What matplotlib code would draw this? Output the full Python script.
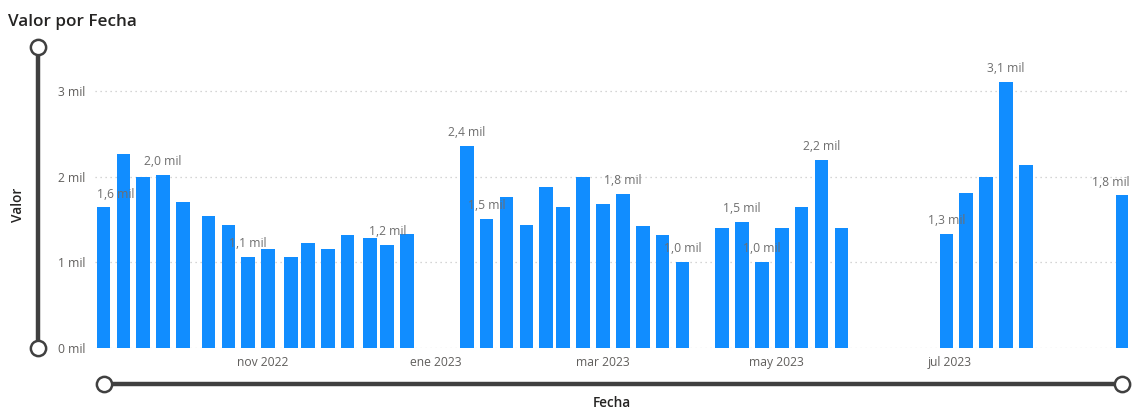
import matplotlib
matplotlib.use("Agg")
import matplotlib.pyplot as plt
import matplotlib.dates as mdates
from matplotlib.lines import Line2D
import numpy as np
import datetime as dt

# ---- data ----
fechas = [
    "2022-09-06", "2022-09-13", "2022-09-20", "2022-09-27", "2022-10-04",
    "2022-10-13", "2022-10-20", "2022-10-27", "2022-11-03", "2022-11-11",
    "2022-11-17", "2022-11-24", "2022-12-01", "2022-12-09", "2022-12-15",
    "2022-12-22",
    "2023-01-12", "2023-01-19", "2023-01-26", "2023-02-02", "2023-02-09",
    "2023-02-15", "2023-02-22", "2023-03-01", "2023-03-08", "2023-03-15",
    "2023-03-22", "2023-03-29",
    "2023-04-12", "2023-04-19", "2023-04-26", "2023-05-03", "2023-05-10",
    "2023-05-17", "2023-05-24",
    "2023-06-30", "2023-07-07", "2023-07-14", "2023-07-21", "2023-07-28",
    "2023-08-31",
]
valores = [
    1640, 2260, 1990, 2020, 1700, 1540, 1440, 1060, 1160, 1060, 1220, 1160,
    1320, 1280, 1200, 1330,
    2360, 1510, 1760, 1440, 1880, 1640, 2000, 1680, 1800, 1420, 1320, 1000,
    1400, 1470, 1000, 1400, 1640, 2200, 1400,
    1330, 1810, 2000, 3100, 2140, 1780,
]
etiquetas_idx = [0, 3, 7, 14, 16, 17, 24, 27, 29, 30, 33, 35, 38, 40]
y_ticks = [0, 1000, 2000, 3000]
x_ticks = ["2022-11-01", "2023-01-01", "2023-03-01", "2023-05-01", "2023-07-01"]
x_tick_labels = ["nov 2022", "ene 2023", "mar 2023", "may 2023", "jul 2023"]

# ---- figure ----
W, H = 1138, 412
plt.rcParams['font.family'] = ['Open Sans', 'DejaVu Sans']
fig = plt.figure(figsize=(W / 100, H / 100), dpi=100)

def fx(px):
    return px / W

def fy(py):
    return 1 - py / H

ax_l, ax_r, ax_t, ax_b = 95, 1128, 52.4, 348
ax = fig.add_axes([fx(ax_l), fy(ax_b), fx(ax_r - ax_l), (ax_b - ax_t) / H])

d = [dt.datetime.strptime(s, "%Y-%m-%d") for s in fechas]
dn = mdates.date2num(d)
bar_w = 4.8
blue = "#118DFF"
ax.bar(dn, valores, width=bar_w, color=blue, zorder=2)

ax.set_xlim(mdates.date2num(dt.datetime(2022, 9, 3)), mdates.date2num(dt.datetime(2023, 9, 2)))
ax.set_ylim(0, 3450)

for s in ax.spines.values():
    s.set_visible(False)

ax.set_yticks(y_ticks)
ax.set_yticklabels([f"{v // 1000} mil" for v in y_ticks])
ax.tick_params(axis='y', length=0, pad=7, labelsize=8.7, labelcolor="#605E5C")
xt = mdates.date2num([dt.datetime.strptime(s, "%Y-%m-%d") for s in x_ticks])
ax.set_xticks(xt)
ax.set_xticklabels(x_tick_labels)
ax.tick_params(axis='x', length=0, pad=6, labelsize=8.7, labelcolor="#605E5C")

for v in y_ticks:
    ax.axhline(v, color="#C8C8C8", linestyle=(0, (1, 3)), linewidth=0.9, zorder=1)

for i in etiquetas_idx:
    txt = f"{valores[i] / 1000:.1f}".replace(".", ",") + " mil"
    if i == 0:
        x, ha = dn[i] - bar_w / 2, 'left'
    elif i == len(valores) - 1:
        x, ha = dn[i] + bar_w / 2, 'right'
    else:
        x, ha = dn[i], 'center'
    ax.annotate(txt, (x, valores[i]), xytext=(0, 5), textcoords='offset points',
                ha=ha, va='bottom', fontsize=8.7, color="#6E6E6E", zorder=3,
                annotation_clip=False)

# ---- Power BI decorations ----
dark = "#404040"
fig.text(fx(8), fy(22), "Valor por Fecha", fontsize=12.3, color="#252423",
         fontweight='semibold', ha='left', va='center')
fig.text(fx(18), fy(205), "Valor", fontsize=9.8, color="#252423", rotation=90,
         ha='center', va='center', fontweight='semibold')
fig.text(fx(612), fy(403), "Fecha", fontsize=9.8, color="#252423",
         ha='center', va='center', fontweight='semibold')

# vertical slider
fig.add_artist(Line2D([fx(38), fx(38)], [fy(47), fy(348)], transform=fig.transFigure,
                      color=dark, linewidth=3.2, solid_capstyle='butt', zorder=5))
fig.add_artist(Line2D([fx(38), fx(38)], [fy(47), fy(348)], transform=fig.transFigure,
                      linestyle='none', marker='o', markersize=11, markerfacecolor='white',
                      markeredgecolor=dark, markeredgewidth=1.8, zorder=6))
# horizontal slider
fig.add_artist(Line2D([fx(104), fx(1122)], [fy(384), fy(384)], transform=fig.transFigure,
                      color=dark, linewidth=3.2, solid_capstyle='butt', zorder=5))
fig.add_artist(Line2D([fx(104), fx(1122)], [fy(384), fy(384)], transform=fig.transFigure,
                      linestyle='none', marker='o', markersize=11, markerfacecolor='white',
                      markeredgecolor=dark, markeredgewidth=1.8, zorder=6))

fig.savefig("out.png", dpi=100)
